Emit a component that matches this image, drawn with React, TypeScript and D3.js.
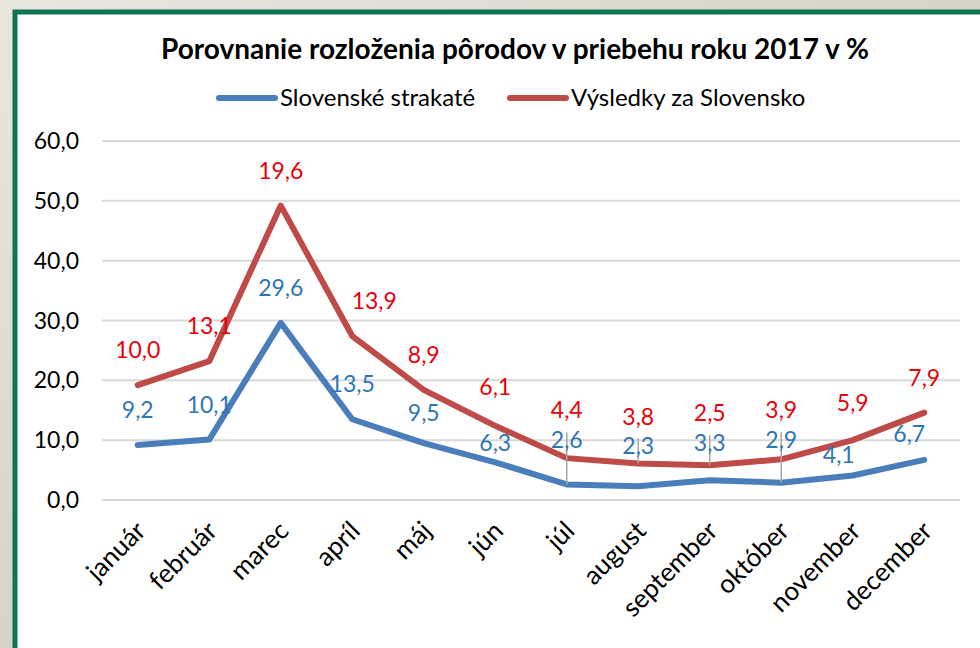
import React from 'react';
import * as d3 from 'd3';

const months = ['január', 'február', 'marec', 'apríl', 'máj', 'jún', 'júl', 'august', 'september', 'október', 'november', 'december'];
const strakate = [9.2, 10.1, 29.6, 13.5, 9.5, 6.3, 2.6, 2.3, 3.3, 2.9, 4.1, 6.7];
const slovensko = [10.0, 13.1, 19.6, 13.9, 8.9, 6.1, 4.4, 3.8, 2.5, 3.9, 5.9, 7.9];
const yTicks = [0, 10, 20, 30, 40, 50, 60];

const TITLE = 'Porovnanie rozloženia pôrodov v priebehu roku 2017 v %';
const SERIES = ['Slovenské strakaté', 'Výsledky za Slovensko'];

// manual label nudges (like moved Excel data labels)
const blueNudge: Record<string, [number, number]> = {
  'máj': [0, 5], 'jún': [0, 16], 'júl': [0, -9], 'august': [0, -5], 'september': [0, -2],
  'október': [0, -8], 'november': [-14, 14], 'december': [-15, 9],
};
const redNudge: Record<string, [number, number]> = {
  'apríl': [22, 0], 'jún': [0, -4], 'júl': [0, -13], 'august': [0, -12], 'september': [0, -17],
  'október': [0, -14], 'november': [0, -2],
};
const leaders: { month: string; to: 'blue' | 'red' }[] = [
  { month: 'júl', to: 'blue' }, { month: 'august', to: 'red' },
  { month: 'september', to: 'red' }, { month: 'október', to: 'blue' },
];

const W = 980, H = 648;
const BLUE = '#4a7ebb', RED = '#be4b48';
const BLUE_TXT = '#2e75b6', RED_TXT = '#e8000b';
const FONT = 'Lato, "Open Sans", sans-serif';

export default function App() {
  const x = d3.scalePoint<string>().domain(months).range([102, 960]).padding(0.5);
  const y = d3.scaleLinear().domain([0, 60]).range([500, 141]);
  const fmt = (v: number) => v.toFixed(1).replace('.', ',');

  const totals = strakate.map((v, i) => v + slovensko[i]);
  const line = d3.line<number>().x((_, i) => x(months[i])!).y(d => y(d));

  const OFF = 35;

  return (
    <svg width={W} height={H} style={{ position: 'absolute', left: 0, top: 0 }} fontFamily={FONT}>
      <defs>
        <linearGradient id="bg" x1="0" y1="0" x2="1" y2="1">
          <stop offset="0" stopColor="#e9e6de" />
          <stop offset="0.5" stopColor="#d6d4c8" />
          <stop offset="1" stopColor="#e4e1d8" />
        </linearGradient>
      </defs>
      <rect width={W} height={H} fill="url(#bg)" />
      <rect x={15} y={12} width={W + 20} height={H + 20} fill="#fff" stroke="#127352" strokeWidth={5} />

      <text x={515} y={59} textAnchor="middle" fontSize={28} fontWeight={700} fill="#000">{TITLE}</text>

      {/* legend */}
      <line x1={219} x2={275} y1={98} y2={98} stroke={BLUE} strokeWidth={6} strokeLinecap="round" />
      <text x={280} y={106} fontSize={24} fill="#000">{SERIES[0]}</text>
      <line x1={510} x2={566} y1={98} y2={98} stroke={RED} strokeWidth={6} strokeLinecap="round" />
      <text x={571} y={106} fontSize={24} fill="#000">{SERIES[1]}</text>

      {/* grid */}
      {yTicks.map(t => (
        <g key={t}>
          <line x1={102} x2={960} y1={y(t)} y2={y(t)} stroke="#d9d9d9" strokeWidth={2} />
          <text x={79} y={y(t)} dy="0.35em" textAnchor="end" fontSize={23} fill="#000">{fmt(t)}</text>
        </g>
      ))}

      {/* x labels */}
      {months.map(m => (
        <text key={m} transform={`translate(${x(m)! + 3},${526}) rotate(-45)`} textAnchor="end" dy="0.35em" fontSize={26} fill="#000">{m}</text>
      ))}

      {/* lines */}
      <path d={line(totals)!} fill="none" stroke={RED} strokeWidth={6} strokeLinejoin="round" strokeLinecap="round" />
      <path d={line(strakate)!} fill="none" stroke={BLUE} strokeWidth={6} strokeLinejoin="round" strokeLinecap="round" />

      {/* leader lines */}
      {leaders.map(l => {
        const i = months.indexOf(l.month);
        const n = blueNudge[l.month] || [0, 0];
        const ly = y(strakate[i]) - OFF + n[1] - 8;
        const ty = l.to === 'blue' ? y(strakate[i]) : y(totals[i]);
        return <line key={l.month} x1={x(l.month)!} x2={x(l.month)!} y1={ly} y2={ty} stroke="#a6a6a6" strokeWidth={1.5} />;
      })}

      {/* data labels */}
      {months.map((m, i) => {
        const n = blueNudge[m] || [0, 0];
        return (
          <text key={'b' + m} x={x(m)! + n[0]} y={y(strakate[i]) - OFF + n[1]} dy="0.35em" textAnchor="middle" fontSize={23} fill={BLUE_TXT}>
            {fmt(strakate[i])}
          </text>
        );
      })}
      {months.map((m, i) => {
        const n = redNudge[m] || [0, 0];
        return (
          <text key={'r' + m} x={x(m)! + n[0]} y={y(totals[i]) - OFF + n[1]} dy="0.35em" textAnchor="middle" fontSize={23} fill={RED_TXT}>
            {fmt(slovensko[i])}
          </text>
        );
      })}
    </svg>
  );
}
